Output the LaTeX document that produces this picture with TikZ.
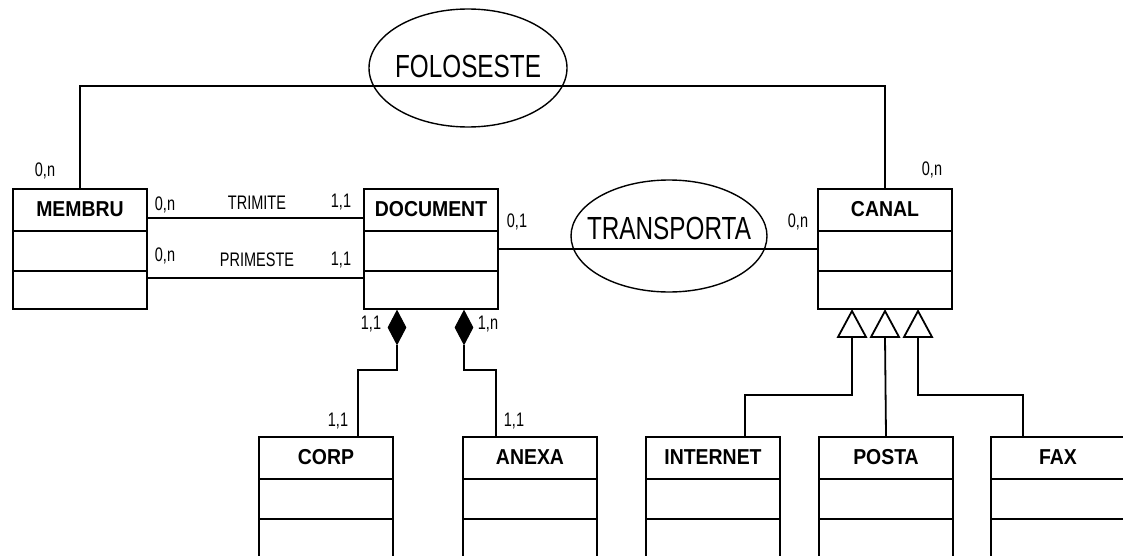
\documentclass[tikz,border=0pt]{standalone}
\usepackage{fontspec}
\setmainfont{Liberation Sans}
\newfontfamily\multfont[FakeStretch=0.74]{Liberation Sans}
\newfontfamily\relfont[FakeStretch=0.76]{Liberation Sans}
\newfontfamily\entfont[FakeStretch=0.9]{Liberation Sans}
\usetikzlibrary{shapes.geometric}

\begin{document}
\begin{tikzpicture}[
    x=0.5pt, y=-0.5pt,
    line width=0.9pt,
    entity/.style = {
        rectangle, draw, line width=1pt,
        minimum width=67pt, minimum height=60pt,
        anchor=north west, inner sep=0pt
    },
    enttitle/.style = {
        font=\entfont\bfseries\fontsize{10.8}{12}\selectfont,
        inner sep=0pt
    },
    relation/.style = {
        ellipse, draw, line width=0.7pt, inner sep=0pt
    },
    reltext/.style = {
        font=\relfont\fontsize{16}{18}\selectfont, inner sep=0pt
    },
    mult/.style = {
        font=\multfont\fontsize{9.8}{11}\selectfont, inner sep=0pt
    },
    compos/.style = {
        diamond, draw, fill=black, line width=0.5pt, inner sep=0pt,
        minimum width=9pt, minimum height=17pt, anchor=north
    },
    genarrow/.style = {draw, line width=0.9pt, fill=white}
]
\useasboundingbox (0,0) rectangle (1123,556);

% ===== ENTITIES =====
\node[entity] (membru)   at (12,188)  {};
\node[entity] (document) at (363,188) {};
\node[entity] (canal)    at (817,188) {};
\node[entity] (corp)     at (258,436) {};
\node[entity] (anexa)    at (462,436) {};
\node[entity] (internet) at (645,436) {};
\node[entity] (posta)    at (818,436) {};
\node[entity] (fax)      at (990,436) {};

\foreach \ent/\ttl in {membru/MEMBRU, document/DOCUMENT, canal/CANAL,
                       corp/CORP, anexa/ANEXA, internet/INTERNET,
                       posta/POSTA, fax/FAX} {
    \node[enttitle] at ([yshift=-10.5pt]\ent.north) {\ttl};
    \draw[line width=1pt] ([yshift=-21.5pt]\ent.north west) -- ([yshift=-21.5pt]\ent.north east);
    \draw[line width=1pt] ([yshift=-41.5pt]\ent.north west) -- ([yshift=-41.5pt]\ent.north east);
}

% ===== RELATIONS =====
\node[relation, minimum width=99pt, minimum height=59pt,
      label={[reltext, yshift=1pt]center:FOLOSESTE}] (foloseste) at (468,68) {};
\node[relation, minimum width=98pt, minimum height=56pt,
      label={[reltext, yshift=4pt]center:TRANSPORTA}] (transporta) at (669,236) {};

\coordinate (topbar) at (468,86);
\draw (membru.north) |- (topbar) -| (canal.north);

\draw ([yshift=-15pt]membru.north east) -- ([yshift=-15pt]document.north west);
\draw ([yshift=-45pt]membru.north east) -- ([yshift=-45pt]document.north west);
\draw (document.east) -- (canal.west);

% ===== COMPOSITION =====
\node[compos] (dcorp)  at ([xshift=17pt]document.south west) {};
\node[compos] (danexa) at ([xshift=50.5pt]document.south west) {};
\draw (dcorp.south)  |- ([xshift=50pt, yshift=33pt]corp.north west) -- ([xshift=50pt]corp.north west);
\draw (danexa.south) |- ([xshift=17pt, yshift=33pt]anexa.north west) -- ([xshift=17pt]anexa.north west);

% ===== GENERALISATION =====
\foreach \i/\dx in {1/17.5, 2/34, 3/50.5} {
    \draw[genarrow] ([xshift=\dx pt, yshift=-0.5pt]canal.south west)
        -- ++(-7pt,-13pt) -- ++(14pt,0pt) -- cycle;
    \coordinate (gen\i) at ([xshift=\dx pt, yshift=-13.5pt]canal.south west);
}
\draw (gen1) |- ([xshift=50pt, yshift=20.5pt]internet.north west) -- ([xshift=50pt]internet.north west);
\draw (gen2) -- (posta.north);
\draw (gen3) |- ([xshift=16.5pt, yshift=20.5pt]fax.north west) -- ([xshift=16.5pt]fax.north west);

% ===== MULTIPLICITIES =====
\node[mult] at (45,171)  {0,n};
\node[mult] at (165,205) {0,n};
\node[mult] at (257,203) {TRIMITE};
\node[mult] at (341,202) {1,1};
\node[mult] at (165,256) {0,n};
\node[mult] at (257,260) {PRIMESTE};
\node[mult] at (341,260) {1,1};
\node[mult] at (517,222) {0,1};
\node[mult] at (798,222) {0,n};
\node[mult] at (932,170) {0,n};
\node[mult] at (371,324) {1,1};
\node[mult] at (488,324) {1,n};
\node[mult] at (338,421) {1,1};
\node[mult] at (514,421) {1,1};
\end{tikzpicture}
\end{document}
